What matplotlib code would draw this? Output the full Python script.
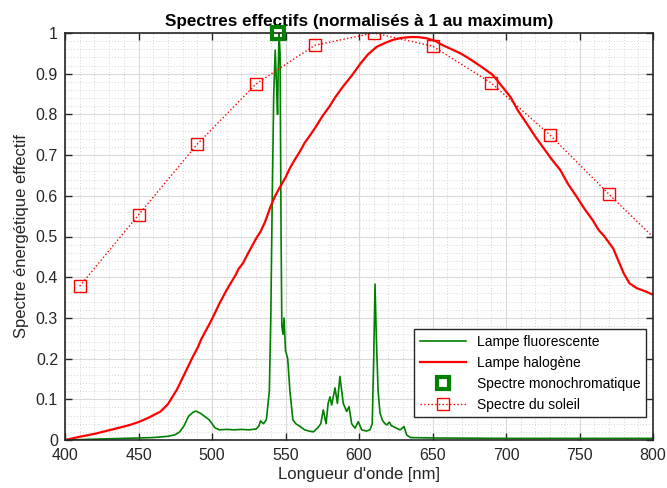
import numpy as np
import matplotlib
matplotlib.use("Agg")
import matplotlib.pyplot as plt
from matplotlib.ticker import MultipleLocator

plt.rcParams["font.family"] = ["Liberation Sans", "DejaVu Sans"]

# Lampe fluorescente (nm, valeur normalisee)
fluo_nm = [400, 420, 440, 460, 470, 475, 478, 481, 484, 487, 489, 492, 495, 498,
           500, 502, 505, 510, 515, 520, 525, 530, 532, 533, 535, 537, 539, 540,
           541, 542, 543, 544, 544.6, 545, 545.6, 546.3, 547, 547.5, 548.3, 549,
           550, 551.5, 553, 555, 557, 560, 563, 566, 569, 572, 574, 575.7, 577.6,
           579, 580.3, 581.4, 583.7, 585.3, 587, 589.3, 591.6, 593.2, 595, 597.3,
           599.5, 601.8, 605, 607.5, 609, 610, 610.9, 611.8, 613, 614.3, 616,
           617.7, 619, 620.6, 622, 623.4, 626, 628, 630.6, 632.5, 635, 650, 700,
           750, 800]
fluo_val = [0.0, 0.002, 0.004, 0.006, 0.009, 0.013, 0.02, 0.035, 0.058, 0.068,
            0.071, 0.066, 0.058, 0.05, 0.04, 0.03, 0.025, 0.026, 0.025, 0.026,
            0.025, 0.027, 0.035, 0.047, 0.04, 0.05, 0.12, 0.3, 0.6, 0.85, 0.958,
            0.86, 0.80, 0.9, 1.0, 0.95, 0.5, 0.28, 0.26, 0.3, 0.22, 0.2, 0.12,
            0.05, 0.04, 0.033, 0.025, 0.022, 0.02, 0.03, 0.04, 0.074, 0.04, 0.09,
            0.106, 0.086, 0.128, 0.09, 0.156, 0.09, 0.07, 0.082, 0.04, 0.029,
            0.045, 0.025, 0.022, 0.025, 0.04, 0.2, 0.383, 0.25, 0.12, 0.066,
            0.048, 0.04, 0.037, 0.044, 0.035, 0.033, 0.028, 0.025, 0.033, 0.012,
            0.006, 0.005, 0.004, 0.004, 0.004]

# Lampe halogene
halo_nm = [400, 410, 420, 430, 440, 445, 450, 457, 465, 470, 476, 481, 485, 487,
           490, 493, 496, 499, 502, 505, 510, 513, 516, 518, 521, 524, 527, 530,
           533, 536, 538, 540, 543, 546, 550, 553, 556.5, 560, 563, 566, 570,
           575, 580, 584, 589, 595, 601, 606, 612, 618, 623, 629, 635, 640, 646,
           652, 657, 663, 669, 675, 680, 686, 691, 697, 703, 708, 714, 720, 725,
           731, 737, 742, 748, 753, 759, 763, 767, 773, 780, 784, 789, 795, 800]
halo_val = [0.0, 0.008, 0.015, 0.024, 0.033, 0.038, 0.044, 0.055, 0.07, 0.088,
            0.123, 0.16, 0.19, 0.205, 0.225, 0.25, 0.27, 0.29, 0.312, 0.335,
            0.369, 0.387, 0.405, 0.42, 0.434, 0.455, 0.475, 0.495, 0.512, 0.535,
            0.555, 0.575, 0.60, 0.62, 0.645, 0.668, 0.69, 0.71, 0.73, 0.745,
            0.766, 0.795, 0.82, 0.843, 0.868, 0.895, 0.925, 0.947, 0.966, 0.976,
            0.983, 0.988, 0.99, 0.99, 0.987, 0.98, 0.97, 0.96, 0.95, 0.937,
            0.925, 0.91, 0.897, 0.87, 0.843, 0.81, 0.778, 0.745, 0.72, 0.69,
            0.663, 0.63, 0.598, 0.57, 0.54, 0.516, 0.5, 0.47, 0.41, 0.385,
            0.373, 0.365, 0.357]

# Spectre monochromatique
mono_nm = [545]
mono_val = [1.0]

# Spectre du soleil
sun_nm = [410, 450, 490, 530, 570, 610, 650, 690, 730, 770, 810]
sun_val = [0.378, 0.553, 0.727, 0.875, 0.97, 1.0, 0.968, 0.877, 0.749, 0.604, 0.464]

green = "#008000"
dark = "#262626"

fig = plt.figure(figsize=(6.67, 4.88), dpi=100)
ax = fig.add_axes([65 / 667, 1 - 440 / 488, 588 / 667, 407 / 488])

ax.plot(fluo_nm, fluo_val, color=green, lw=1.2, label="Lampe fluorescente")
ax.plot(halo_nm, halo_val, color="red", lw=1.6, label="Lampe halogène")
ax.plot(mono_nm, mono_val, ls="none", marker="s", ms=9, mew=3,
        mfc="none", mec=green, label="Spectre monochromatique", clip_on=False,
        zorder=5)
ax.plot(sun_nm, sun_val, color="red", ls=":", lw=1, marker="s", ms=9,
        mfc="none", mec="red", mew=1, label="Spectre du soleil")

ax.set_xlim(400, 800)
ax.set_ylim(0, 1)
ax.xaxis.set_major_locator(MultipleLocator(50))
ax.xaxis.set_minor_locator(MultipleLocator(10))
ax.yaxis.set_major_locator(MultipleLocator(0.1))
ax.yaxis.set_minor_locator(MultipleLocator(0.02))
ax.set_yticks(np.arange(0, 1.01, 0.1))
ax.set_yticklabels(["0", "0.1", "0.2", "0.3", "0.4", "0.5", "0.6", "0.7",
                    "0.8", "0.9", "1"])

ax.grid(which="major", color="#d9d9d9", lw=0.8)
ax.grid(which="minor", color="#c8c8c8", lw=0.6, ls=(0, (1, 2.5)))
ax.set_axisbelow(True)

ax.tick_params(which="major", direction="in", length=5, width=1, top=True,
               right=True, colors=dark, labelsize=11.5)
ax.tick_params(axis="x", which="major", pad=6)
ax.tick_params(axis="y", which="major", pad=5)
ax.tick_params(which="minor", length=0)
for s in ax.spines.values():
    s.set_color(dark)
    s.set_linewidth(1.2)

ax.set_xlabel("Longueur d'onde [nm]", fontsize=12, color=dark, labelpad=3)
ax.set_ylabel("Spectre énergétique effectif", fontsize=12, color=dark,
              labelpad=5)
ax.set_title("Spectres effectifs (normalisés à 1 au maximum)", fontsize=12.3,
             fontweight="bold", pad=5)

leg = ax.legend(loc="lower right", bbox_to_anchor=(0.988, 0.056),
                borderaxespad=0, fancybox=False, fontsize=10,
                handlelength=3.3, framealpha=1, edgecolor=dark)
leg.get_frame().set_linewidth(1)

fig.savefig("out.png", dpi=100)
